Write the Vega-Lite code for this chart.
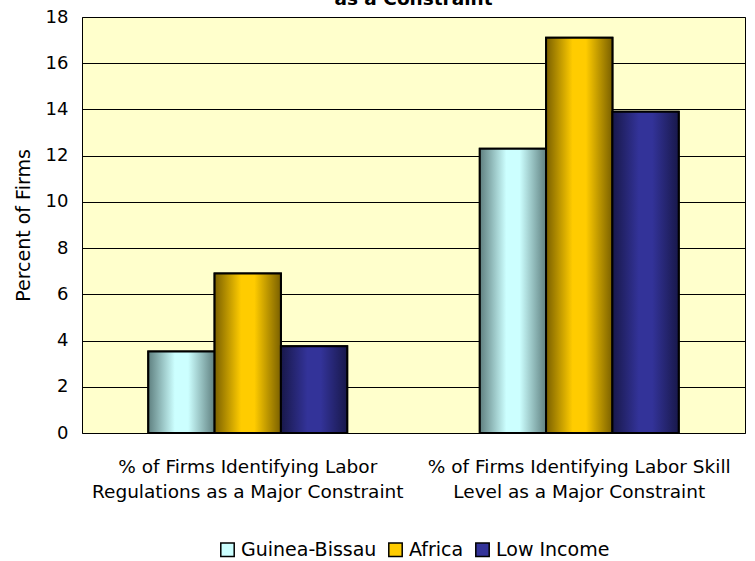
{
  "$schema": "https://vega.github.io/schema/vega-lite/v6.json",
  "width": 663,
  "height": 416,
  "autosize": {"type": "none"},
  "padding": {"left": 82, "top": 17, "right": 10, "bottom": 128},
  "background": "#ffffff",
  "title": {
    "text": "as a Constraint",
    "fontSize": 18.5,
    "fontWeight": "bold",
    "font": "DejaVu Sans",
    "color": "#000000",
    "anchor": "middle",
    "offset": 0
  },
  "config": {
    "view": {"fill": "#FFFFCC", "stroke": "#000000", "strokeWidth": 1},
    "font": "DejaVu Sans",
    "legend": {"layout": {"bottom": {"anchor": "middle"}}}
  },
  "data": {
    "values": [
      {"category": "% of Firms Identifying Labor|Regulations as a Major Constraint", "series": "Guinea-Bissau", "value": 3.53},
      {"category": "% of Firms Identifying Labor|Regulations as a Major Constraint", "series": "Africa", "value": 6.9},
      {"category": "% of Firms Identifying Labor|Regulations as a Major Constraint", "series": "Low Income", "value": 3.75},
      {"category": "% of Firms Identifying Labor Skill|Level as a Major Constraint", "series": "Guinea-Bissau", "value": 12.3},
      {"category": "% of Firms Identifying Labor Skill|Level as a Major Constraint", "series": "Africa", "value": 17.1},
      {"category": "% of Firms Identifying Labor Skill|Level as a Major Constraint", "series": "Low Income", "value": 13.9}
    ]
  },
  "encoding": {
    "x": {
      "field": "category",
      "type": "nominal",
      "sort": null,
      "scale": {"paddingInner": 0.4, "paddingOuter": 0.2},
      "axis": {
        "title": null,
        "labelAngle": 0,
        "labelExpr": "split(datum.label, '|')",
        "labelFontSize": 18.5,
        "labelColor": "#000000",
        "labelPadding": 24,
        "labelLineHeight": 25,
        "labelLimit": 400,
        "domain": false,
        "ticks": false,
        "grid": false
      }
    },
    "xOffset": {
      "field": "series",
      "type": "nominal",
      "sort": ["Guinea-Bissau", "Africa", "Low Income"],
      "scale": {"paddingInner": 0, "paddingOuter": 0}
    },
    "y": {
      "field": "value",
      "type": "quantitative",
      "scale": {"domain": [0, 18], "nice": false},
      "axis": {
        "title": "Percent of Firms",
        "titleFontSize": 19,
        "titleFontWeight": "normal",
        "titleColor": "#000000",
        "titlePadding": 12,
        "values": [0, 2, 4, 6, 8, 10, 12, 14, 16, 18],
        "labelFontSize": 18,
        "labelColor": "#000000",
        "labelPadding": 14,
        "domain": false,
        "ticks": false,
        "grid": true,
        "gridColor": "#000000",
        "gridOpacity": 1,
        "gridWidth": 1
      }
    }
  },
  "layer": [
    {
      "mark": {"type": "bar", "stroke": "#000000", "strokeWidth": 2},
      "encoding": {
        "color": {
          "field": "series",
          "type": "nominal",
          "sort": ["Guinea-Bissau", "Africa", "Low Income"],
          "scale": {"domain": ["Guinea-Bissau", "Africa", "Low Income"], "range": ["#CCFFFF", "#FFCC00", "#333399"]},
          "legend": {
            "title": null,
            "orient": "bottom",
            "direction": "horizontal",
            "symbolType": "square",
            "symbolSize": 180,
            "symbolStrokeColor": "#000000",
            "symbolStrokeWidth": 1.5,
            "symbolOpacity": 1,
            "labelFontSize": 19,
            "labelColor": "#000000",
            "columnPadding": 8,
            "labelOffset": 4,
            "offset": 39
          }
        }
      }
    },
    {
      "transform": [{"filter": "datum.series === 'Guinea-Bissau'"}],
      "mark": {
        "type": "bar", "stroke": "#000000", "strokeWidth": 2,
        "color": {"gradient": "linear", "x1": 0, "x2": 1, "y1": 0, "y2": 0,
          "stops": [{"offset": 0, "color": "#5f8080"}, {"offset": 0.4, "color": "#ccffff"}, {"offset": 0.6, "color": "#ccffff"}, {"offset": 1, "color": "#5f8080"}]}
      }
    },
    {
      "transform": [{"filter": "datum.series === 'Africa'"}],
      "mark": {
        "type": "bar", "stroke": "#000000", "strokeWidth": 2,
        "color": {"gradient": "linear", "x1": 0, "x2": 1, "y1": 0, "y2": 0,
          "stops": [{"offset": 0, "color": "#7a6000"}, {"offset": 0.4, "color": "#ffcc00"}, {"offset": 0.6, "color": "#ffcc00"}, {"offset": 1, "color": "#7a6000"}]}
      }
    },
    {
      "transform": [{"filter": "datum.series === 'Low Income'"}],
      "mark": {
        "type": "bar", "stroke": "#000000", "strokeWidth": 2,
        "color": {"gradient": "linear", "x1": 0, "x2": 1, "y1": 0, "y2": 0,
          "stops": [{"offset": 0, "color": "#18184a"}, {"offset": 0.4, "color": "#333399"}, {"offset": 0.6, "color": "#333399"}, {"offset": 1, "color": "#18184a"}]}
      }
    }
  ]
}
